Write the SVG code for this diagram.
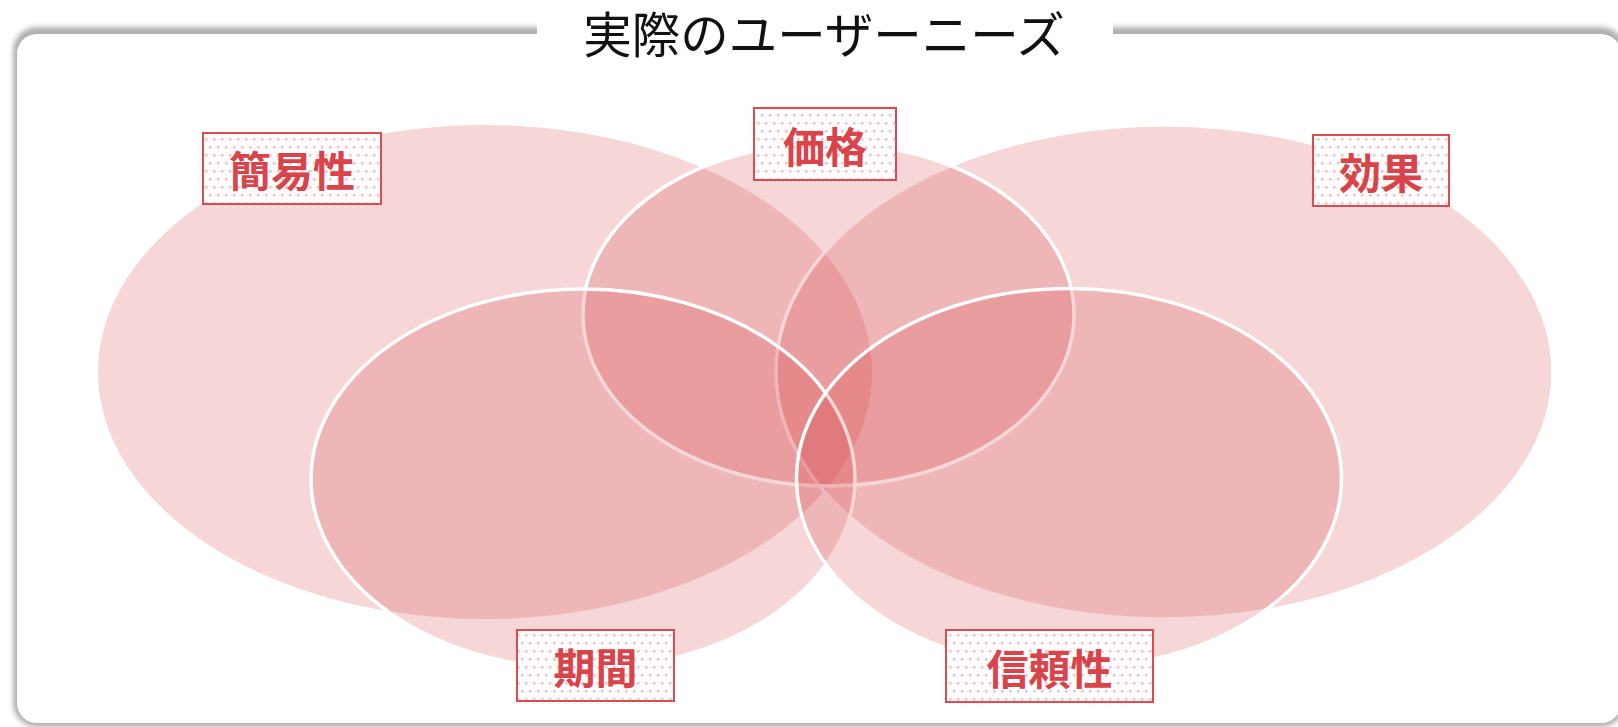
<svg xmlns="http://www.w3.org/2000/svg" width="1618" height="727" viewBox="0 0 1618 727">
  <defs>
    <filter id="shadow" x="-5%" y="-5%" width="110%" height="110%">
      <feGaussianBlur stdDeviation="2.5"/>
    </filter>
    <pattern id="dots" width="8" height="16" patternUnits="userSpaceOnUse">
      <rect x="1" y="2" width="2.6" height="2.6" fill="#f3c3c5"/>
      <rect x="5" y="10" width="2.6" height="2.6" fill="#f3c3c5"/>
    </pattern>
    <style>
      .set { fill: rgb(214,70,75); fill-opacity: 0.22; }
      .edge { stroke: #ffffff; stroke-width: 3.5; }
      .box { fill: url(#dots); stroke: #dc4b50; stroke-width: 2; }
      .boxbg { fill: #ffffff; }
      .lbl { font-family: "Noto Sans CJK JP", "Noto Sans CJK SC", sans-serif; font-weight: 700; font-size: 42px; fill: #d9444a; text-anchor: middle; dominant-baseline: central; }
      .title { font-family: "Noto Sans CJK JP", "Noto Sans CJK SC", sans-serif; font-weight: 400; font-size: 48.5px; fill: #111111; text-anchor: middle; }
    </style>
  </defs>

  <g id="frame">
    <rect x="13" y="27" width="1612" height="700" rx="24" fill="#b0b0b0" filter="url(#shadow)"/>
    <rect x="17" y="34" width="1604" height="689" rx="20" fill="#ffffff"/>
  </g>

  <g id="title">
    <rect x="537" y="0" width="576" height="42" fill="#ffffff"/>
    <text class="title" x="824" y="53">実際のユーザーニーズ</text>
  </g>

  <g id="sets">
    <ellipse id="set-kan-i" class="set" cx="485" cy="372" rx="387" ry="247"/>
    <ellipse id="set-kouka" class="set edge" cx="1164.5" cy="372" rx="388.5" ry="247"/>
    <ellipse id="set-kakaku" class="set edge" cx="828.5" cy="314.5" rx="245.5" ry="171.5"/>
    <ellipse id="set-kikan" class="set edge" cx="583" cy="479" rx="272" ry="190"/>
    <ellipse id="set-shinrai" class="set edge" cx="1069" cy="478.5" rx="272.5" ry="190"/>
  </g>

  <g id="node-kan-i">
    <rect class="boxbg" x="203" y="133" width="178" height="71"/>
    <rect class="box" x="203" y="133" width="178" height="71"/>
    <text class="lbl" x="292" y="168.5">簡易性</text>
  </g>
  <g id="node-kakaku">
    <rect class="boxbg" x="754" y="108" width="142" height="72"/>
    <rect class="box" x="754" y="108" width="142" height="72"/>
    <text class="lbl" x="825" y="144">価格</text>
  </g>
  <g id="node-kouka">
    <rect class="boxbg" x="1313" y="135" width="136" height="71"/>
    <rect class="box" x="1313" y="135" width="136" height="71"/>
    <text class="lbl" x="1381" y="170.5">効果</text>
  </g>
  <g id="node-kikan">
    <rect class="boxbg" x="517" y="630" width="157" height="71"/>
    <rect class="box" x="517" y="630" width="157" height="71"/>
    <text class="lbl" x="595.5" y="665.5">期間</text>
  </g>
  <g id="node-shinrai">
    <rect class="boxbg" x="946" y="630" width="207" height="72"/>
    <rect class="box" x="946" y="630" width="207" height="72"/>
    <text class="lbl" x="1049.5" y="666">信頼性</text>
  </g>

  <g id="connectors"></g>
</svg>
